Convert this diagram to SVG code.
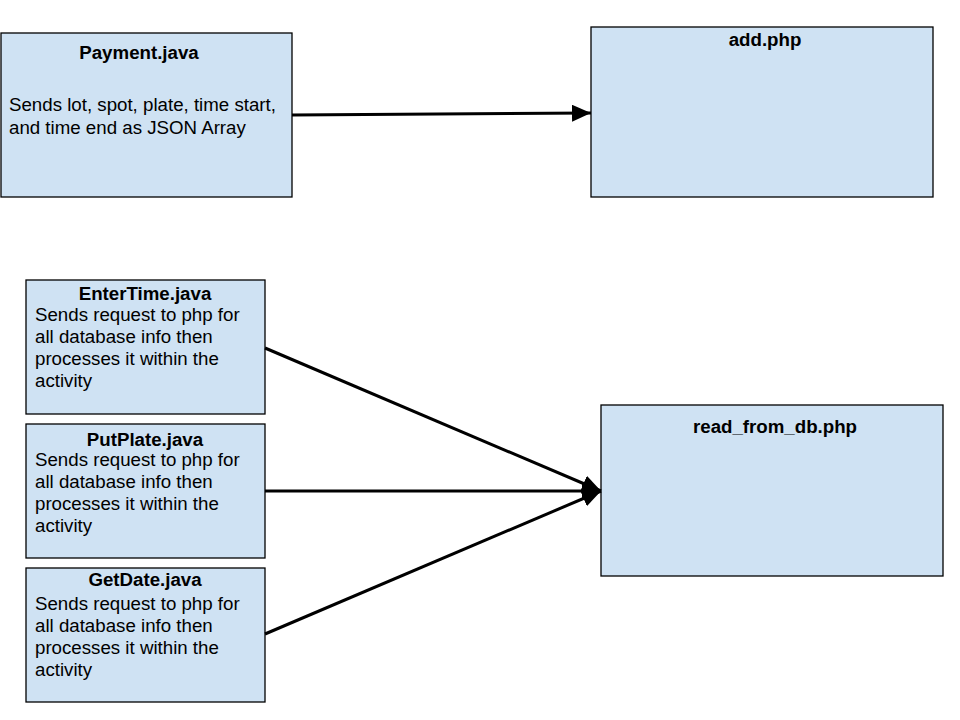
<svg xmlns="http://www.w3.org/2000/svg" width="960" height="720" viewBox="0 0 960 720">
<style>
.box{fill:#cfe2f3;stroke:#000;stroke-width:1.3}
.t{font-family:"Liberation Sans",Arial,sans-serif;font-size:18.7px;font-weight:bold;fill:#000;text-anchor:middle}
.b{font-family:"Liberation Sans",Arial,sans-serif;font-size:18.7px;fill:#000}
.c{stroke:#000;stroke-width:3;fill:none}
</style>
<defs>
<marker id="ah" markerUnits="userSpaceOnUse" markerWidth="22" markerHeight="20" refX="19" refY="8.5" orient="auto">
<path d="M0,0 L19,8.5 L0,17 Z" fill="#000"/>
</marker>
</defs>
<rect width="960" height="720" fill="#fff"/>
<g id="payment">
<rect class="box" x="1" y="33" width="291" height="164"/>
<text class="t" x="139" y="59">Payment.java</text>
<text class="b" x="9" y="111">Sends lot, spot, plate, time start,</text>
<text class="b" x="9" y="134">and time end as JSON Array</text>
</g>
<g id="add">
<rect class="box" x="591" y="27" width="342" height="170"/>
<text class="t" x="765" y="46">add.php</text>
</g>
<g id="entertime">
<rect class="box" x="26" y="280" width="239" height="134"/>
<text class="t" x="145" y="300">EnterTime.java</text>
<text class="b" x="35" y="321">Sends request to php for</text>
<text class="b" x="35" y="343">all database info then</text>
<text class="b" x="35" y="365">processes it within the</text>
<text class="b" x="35" y="387">activity</text>
</g>
<g id="putplate">
<rect class="box" x="26" y="424" width="239" height="134"/>
<text class="t" x="145" y="446">PutPlate.java</text>
<text class="b" x="35" y="466">Sends request to php for</text>
<text class="b" x="35" y="488">all database info then</text>
<text class="b" x="35" y="510">processes it within the</text>
<text class="b" x="35" y="532">activity</text>
</g>
<g id="getdate">
<rect class="box" x="26" y="568" width="239" height="134"/>
<text class="t" x="145" y="586">GetDate.java</text>
<text class="b" x="35" y="610">Sends request to php for</text>
<text class="b" x="35" y="632">all database info then</text>
<text class="b" x="35" y="654">processes it within the</text>
<text class="b" x="35" y="676">activity</text>
</g>
<g id="readdb">
<rect class="box" x="601" y="405" width="342" height="171"/>
<text class="t" x="775" y="433">read_from_db.php</text>
</g>
<g id="connectors">
<line class="c" x1="292" y1="115" x2="591" y2="113" marker-end="url(#ah)"/>
<line class="c" x1="265" y1="348" x2="601" y2="491" marker-end="url(#ah)"/>
<line class="c" x1="265" y1="491" x2="601" y2="491" marker-end="url(#ah)"/>
<line class="c" x1="265" y1="634" x2="601" y2="491" marker-end="url(#ah)"/>
</g>
</svg>
